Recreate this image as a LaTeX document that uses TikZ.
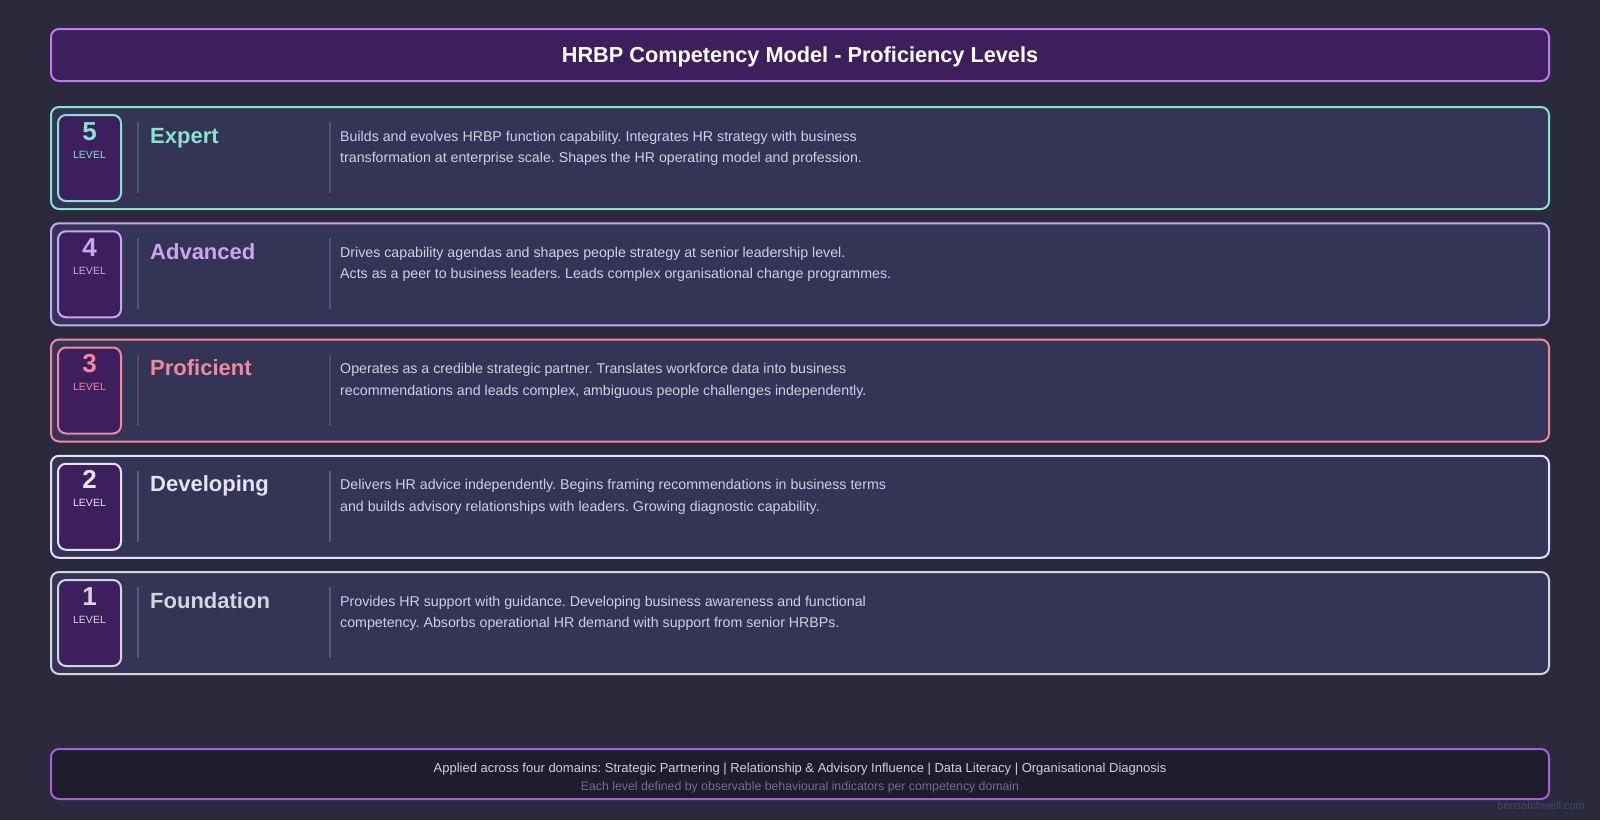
\documentclass[tikz,border=0pt]{standalone}
\usepackage{fontspec}
\setmainfont{Liberation Sans}
\usetikzlibrary{positioning,calc}
\frenchspacing
\definecolor{pagebg}{HTML}{2A2A3C}
\definecolor{headfill}{HTML}{3D1F5E}
\definecolor{headline}{HTML}{C477F5}
\definecolor{rowfill}{HTML}{343457}
\definecolor{footfill}{HTML}{1D1D2E}
\definecolor{footline}{HTML}{A55FDB}
\definecolor{desctext}{HTML}{CFCFE0}
\definecolor{subtext}{HTML}{6E6E90}
\definecolor{wmark}{HTML}{44466A}
\definecolor{lvfive}{HTML}{86E3CE}
\definecolor{lvfour}{HTML}{CBA6F0}
\definecolor{lvthree}{HTML}{F2879E}
\definecolor{lvtwo}{HTML}{E6E1F7}
\definecolor{lvone}{HTML}{D4D4DC}
\tikzset{
  panel/.style={draw, line width=2pt, rounded corners=8pt, minimum width=1498pt, inner sep=0pt},
  rowbox/.style={panel, fill=rowfill, minimum height=102pt},
  badge/.style={draw, line width=2pt, rounded corners=8pt, fill=headfill, minimum width=63pt, minimum height=86pt, inner sep=0pt},
  numtxt/.style={anchor=base, inner sep=0pt, font=\fontsize{26}{30}\selectfont\bfseries},
  lvltxt/.style={anchor=base, inner sep=0pt, font=\fontsize{10.5}{12}\selectfont},
  nametxt/.style={anchor=base west, inner sep=0pt, font=\fontsize{22}{26}\selectfont\bfseries},
  desc/.style={anchor=base west, inner sep=0pt, align=left, text=desctext, font=\fontsize{14.2}{21.5}\selectfont},
  divider/.style={line width=2pt}}

\begin{document}
\begin{tikzpicture}[x=1pt, y=-1pt]
  \useasboundingbox[fill=pagebg] (0,0) rectangle (1600,820);
  \node[panel, fill=headfill, draw=headline, minimum height=52pt] (head) at (800,55) {};
  \node[anchor=base, inner sep=0pt, font=\fontsize{21.7}{25}\selectfont\bfseries, text=white] (title) at (800,62.5) {HRBP Competency Model - Proficiency Levels};
  \foreach \n/\acc/\name/\txt [count=\k from 0] in {
      5/lvfive/Expert/{Builds and evolves HRBP function capability. Integrates HR strategy with business\\transformation at enterprise scale. Shapes the HR operating model and profession.},
      4/lvfour/Advanced/{Drives capability agendas and shapes people strategy at senior leadership level.\\Acts as a peer to business leaders. Leads complex organisational change programmes.},
      3/lvthree/Proficient/{Operates as a credible strategic partner. Translates workforce data into business\\recommendations and leads complex, ambiguous people challenges independently.},
      2/lvtwo/Developing/{Delivers HR advice independently. Begins framing recommendations in business terms\\and builds advisory relationships with leaders. Growing diagnostic capability.},
      1/lvone/Foundation/{Provides HR support with guidance. Developing business awareness and functional\\competency. Absorbs operational HR demand with support from senior HRBPs.}} {
    \node[rowbox, draw=\acc] (row\n) at (800, {158+\k*116.25}) {};
    \node[badge, draw=\acc, right=7pt of row\n.west] (badge\n) {};
    \node[numtxt, text=\acc] (num\n) at ($(badge\n.center)+(0,-18)$) {\n};
    \node[lvltxt, text=\acc] (lvl\n) at (badge\n.center) {LEVEL};
    \draw[divider, draw=\acc!22!rowfill] ($(row\n.center)+(-662,-36)$) -- ($(row\n.center)+(-662,35)$);
    \draw[divider, draw=\acc!22!rowfill] ($(row\n.center)+(-470,-36)$) -- ($(row\n.center)+(-470,35)$);
    \node[nametxt, text=\acc] (name\n) at ($(row\n.center)+(-650,-15)$) {\name};
    % base anchor sits on the second line
    \node[desc] (desc\n) at ($(row\n.center)+(-460,4.5)$) {\txt};
  }
  \node[panel, fill=footfill, draw=footline, minimum height=50pt] (foot) at (800,774) {};
  \node[anchor=base, inner sep=0pt, text=desctext, font=\fontsize{13}{15}\selectfont] (domains) at (800,772) {Applied across four domains: Strategic Partnering | Relationship \& Advisory Influence | Data Literacy | Organisational Diagnosis};
  \node[anchor=base, inner sep=0pt, text=subtext, font=\fontsize{12.3}{14}\selectfont] (indic) at (800,790) {Each level defined by observable behavioural indicators per competency domain};
  \node[anchor=base east, inner sep=0pt, text=wmark, font=\fontsize{11}{13}\selectfont] (site) at (1585,809) {bensatchwell.com};
\end{tikzpicture}
\end{document}
